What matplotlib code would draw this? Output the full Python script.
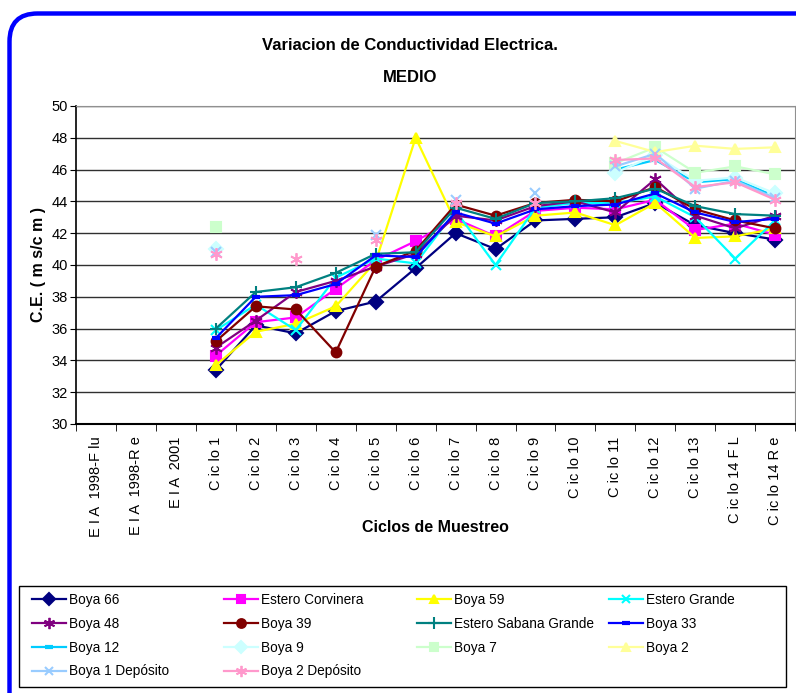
import numpy as np
import matplotlib.pyplot as plt
from matplotlib.patches import FancyBboxPatch, Rectangle

plt.rcParams['font.family'] = ['Liberation Sans', 'DejaVu Sans']

nan = np.nan

categories = [
    "E I A  1998-F lu", "E I A  1998-R e", "E I A  2001",
    "C ic lo 1", "C ic lo 2", "C ic lo 3", "C ic lo 4", "C ic lo 5",
    "C ic lo 6", "C ic lo 7", "C ic lo 8", "C ic lo 9", "C ic lo 10",
    "C ic lo 11", "C ic lo 12", "C ic lo 13", "C ic lo 14 F L", "C ic lo 14 R e",
]

# values per category (first three EIA categories empty)
boya_66 = [nan, nan, nan, 33.4, 36.2, 35.7, 37.1, 37.7, 39.8, 42.0, 41.0, 42.8, 42.9, 43.0, 43.9, 42.5, 42.0, 41.6]
estero_corvinera = [nan, nan, nan, 34.3, 36.4, 36.7, 38.5, 40.3, 41.5, 42.9, 41.8, 43.4, 43.6, 43.5, 44.1, 42.2, 42.6, 41.9]
boya_59 = [nan, nan, nan, 33.7, 35.8, 36.3, 37.4, 40.2, 48.0, 42.7, 41.8, 43.1, 43.3, 42.5, 43.9, 41.7, 41.8, 42.3]
estero_grande = [nan, nan, nan, 35.9, 37.5, 35.9, 39.2, 40.4, 40.1, 43.4, 40.0, 43.6, 43.9, 43.9, 44.3, 43.0, 40.4, 42.8]
boya_48 = [nan, nan, nan, 34.8, 36.5, 38.3, 39.0, 39.9, 40.7, 43.1, 42.8, 43.7, 44.0, 43.3, 45.4, 43.1, 42.3, 43.1]
boya_39 = [nan, nan, nan, 35.2, 37.4, 37.2, 34.5, 39.9, 40.9, 43.8, 43.1, 43.9, 44.1, 44.0, 44.9, 43.5, 42.8, 42.3]
estero_sabana = [nan, nan, nan, 36.0, 38.3, 38.6, 39.5, 40.7, 40.8, 43.6, 42.9, 43.9, 44.0, 44.2, 44.8, 43.7, 43.2, 43.1]
boya_33 = [nan, nan, nan, 35.4, 38.0, 38.1, 38.8, 40.6, 40.5, 43.3, 42.6, 43.5, 43.7, 43.8, 44.5, 43.3, 42.7, 42.9]
boya_12 = [nan, nan, nan, 41.0, nan, nan, nan, nan, nan, nan, nan, nan, nan, 46.0, 46.6, 45.2, 45.4, 44.3]
boya_9 = [nan, nan, nan, 41.0, nan, nan, nan, nan, nan, nan, nan, nan, nan, 45.8, 46.9, 45.3, 45.5, 44.5]
boya_7 = [nan, nan, nan, 42.4, nan, nan, nan, nan, nan, nan, nan, nan, nan, 46.4, 47.4, 45.8, 46.2, 45.7]
boya_2 = [nan, nan, nan, nan, nan, nan, nan, nan, nan, nan, nan, nan, nan, 47.8, 47.1, 47.5, 47.3, 47.4]
boya_1_dep = [nan, nan, nan, 40.8, nan, nan, nan, 41.9, nan, 44.1, nan, 44.5, nan, 46.2, 47.0, 44.8, 45.3, 44.2]
boya_2_dep = [nan, nan, nan, 40.7, nan, 40.4, nan, 41.6, nan, 43.9, nan, 43.9, nan, 46.6, 46.7, 44.9, 45.2, 44.1]

series = [
    ("Boya 66", boya_66, "#000080", "D"),
    ("Estero Corvinera", estero_corvinera, "#FF00FF", "s"),
    ("Boya 59", boya_59, "#FFFF00", "^"),
    ("Estero Grande", estero_grande, "#00FFFF", "x"),
    ("Boya 48", boya_48, "#800080", (6, 2, 0)),
    ("Boya 39", boya_39, "#800000", "o"),
    ("Estero Sabana Grande", estero_sabana, "#008080", "+"),
    ("Boya 33", boya_33, "#0000FF", "_"),
    ("Boya 12", boya_12, "#00CCFF", "_"),
    ("Boya 9", boya_9, "#CCFFFF", "D"),
    ("Boya 7", boya_7, "#CCFFCC", "s"),
    ("Boya 2", boya_2, "#FFFF99", "^"),
    ("Boya 1 Depósito", boya_1_dep, "#99CCFF", "x"),
    ("Boya 2 Depósito", boya_2_dep, "#FF99CC", (6, 2, 0)),
]

fig = plt.figure(figsize=(7.96, 6.93), dpi=100)
ax = fig.add_axes([0.0955, 0.3882, 0.9035, 0.4589])

x = np.arange(len(categories))
handles = []
for name, vals, color, marker in series:
    ms, mew = 7, 1.5
    if marker == "_":
        ms, mew = 6, 3
    elif marker == "+":
        ms, mew = 9, 1.5
    elif isinstance(marker, tuple):
        ms, mew = 9, 1.3
    (h,) = ax.plot(x, vals, color=color, marker=marker, markersize=ms,
                   markeredgewidth=mew, markeredgecolor=color, lw=1.6,
                   label=name, zorder=3)
    handles.append(h)

ax.set_xlim(-0.5, len(categories) - 0.5)
ax.set_ylim(30, 50)
ax.set_yticks(np.arange(30, 51, 2))
ax.tick_params(axis='y', labelsize=10.5, length=4, direction='out', pad=2)
ax.set_xticks(x)
ax.set_xticklabels(categories, rotation=90, fontsize=10.5)
ax.set_xticks(np.arange(-0.5, len(categories), 1), minor=True)
ax.tick_params(axis='x', which='major', length=0, pad=9)
ax.tick_params(axis='x', which='minor', length=5, direction='out')
ax.grid(axis='y', color='#303030', lw=1.0, zorder=1)
ax.set_axisbelow(True)
for s in ("top", "right"):
    ax.spines[s].set_color("#909090")
ax.spines["left"].set_linewidth(1.2)
ax.spines["bottom"].set_linewidth(1.5)

ax.set_xlabel("Ciclos de Muestreo", fontsize=11.5, fontweight="bold", va="center")
ax.xaxis.set_label_coords(0.5, -0.324)
ax.set_ylabel("C.E. ( m s/c m )", fontsize=11.5, fontweight="bold", labelpad=4)

fig.text(410 / 796, 1 - 45 / 693, "Variacion de Conductividad Electrica.",
         ha="center", va="center", fontsize=12, fontweight="bold")
fig.text(410 / 796, 1 - 78 / 693, "MEDIO",
         ha="center", va="center", fontsize=12, fontweight="bold")

# legend: four columns filled row by row, each column its own legend
col_x = [32, 224, 417, 609]
for c in range(4):
    idx = list(range(c, len(series), 4))
    leg = fig.legend([handles[i] for i in idx], [series[i][0] for i in idx],
                     loc="upper left", bbox_to_anchor=(col_x[c] / 796, 1 - 593 / 693),
                     frameon=False, fontsize=9.8, borderpad=0, borderaxespad=0,
                     handlelength=2.5, handletextpad=0.25, labelspacing=0.72,
                     markerscale=0.9)
fig.patches.append(Rectangle((19, 6), 767, 101, transform=None, fill=False,
                             edgecolor="black", lw=1.0, figure=fig))

border = FancyBboxPatch((9.5, -60), 900, 679.5 + 60, boxstyle="round,pad=0,rounding_size=28",
                        transform=None, fill=False, edgecolor="#0000FF", lw=3.2,
                        figure=fig, zorder=0)
fig.patches.append(border)

fig.savefig("out.png", dpi=100)
